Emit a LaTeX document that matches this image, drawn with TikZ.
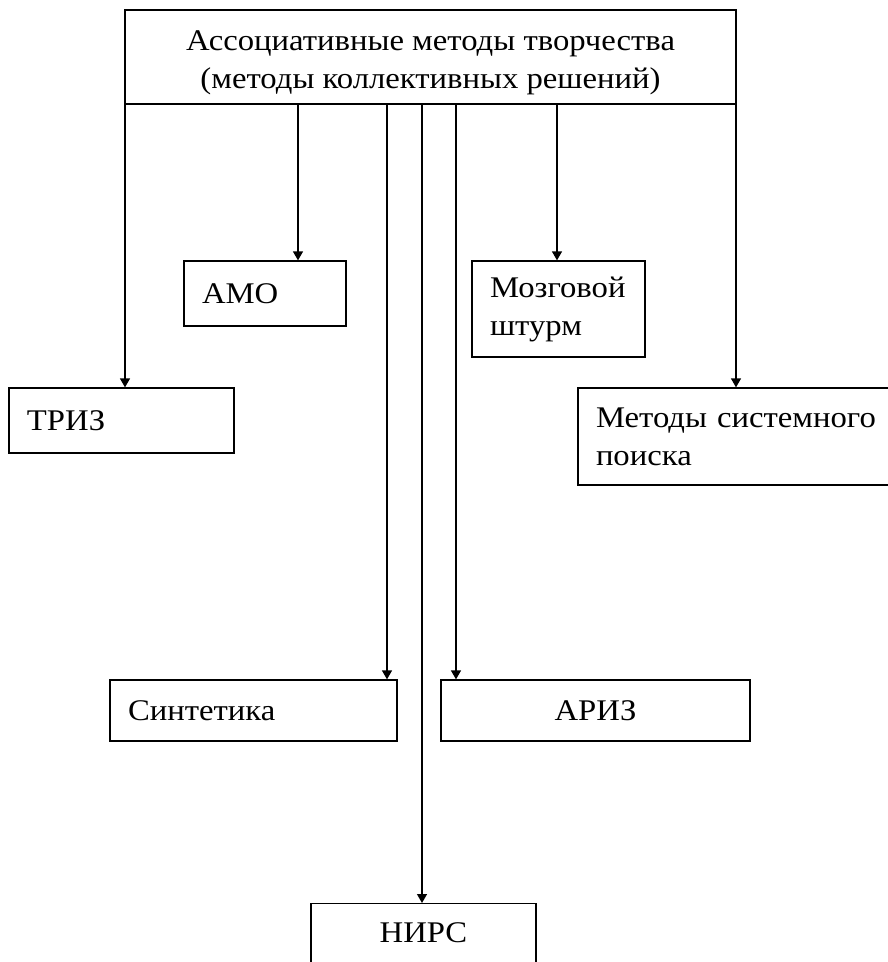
\documentclass[tikz,border=0pt]{standalone}
\usepackage{fontspec}
\setmainfont[FakeStretch=1.09]{Liberation Serif}
\usetikzlibrary{arrows.meta, positioning}

\tikzset{
  box/.style={draw, line width=1.3pt, inner ysep=0pt, inner xsep=18pt, align=left},
  arr/.style={line width=1.3pt, -{Triangle[length=9pt,width=10pt]}}
}

\begin{document}
\begin{tikzpicture}[x=1pt, y=-1pt, font=\fontsize{30}{38}\selectfont]
            \useasboundingbox (0,0) rectangle (888,962);
            \clip (0,0) rectangle (888,962);
            % top box
            \node[box, inner xsep=0pt, minimum width=611, minimum height=94] (top) at (430.5,57)
                {\raisebox{-6pt}[\height][\depth]{\parbox{590pt}{\centering
                 Ассоциативные методы творчества\\(методы коллективных решений)}}};
            % methods
            \node[box, text width=126, minimum height=65] (amo) at (265,293.5) {АМО};
            \node[box, text width=137, minimum height=96] (brain) at (558.5,309) {Мозговой\\штурм};
            \node[box, text width=189, minimum height=65] (triz) at (121.5,420.5) {ТРИЗ};
            \node[box, text width=286, minimum height=97] (search) at (739,436.5) {Методы системного\\поиска};
            \node[box, text width=251, minimum height=61] (synt) at (253.5,710.5) {Синтетика};
            \node[box, align=center, text width=273, minimum height=61] (ariz) at (595.5,710.5) {АРИЗ};
            \node[box, align=center, anchor=north, minimum width=225, inner xsep=0pt,
                text height=39, text depth=45] (nirs) at (423.5,903) {НИРС};
            % arrows from the top box
            \foreach \x/\t in {125/triz, 298/amo, 387/synt, 422/nirs, 456/ariz, 557/brain, 736/search}
                \draw[arr] (\x,0 |- top.south) -- (\x,0 |- \t.north);
        \end{tikzpicture}
\end{document}
